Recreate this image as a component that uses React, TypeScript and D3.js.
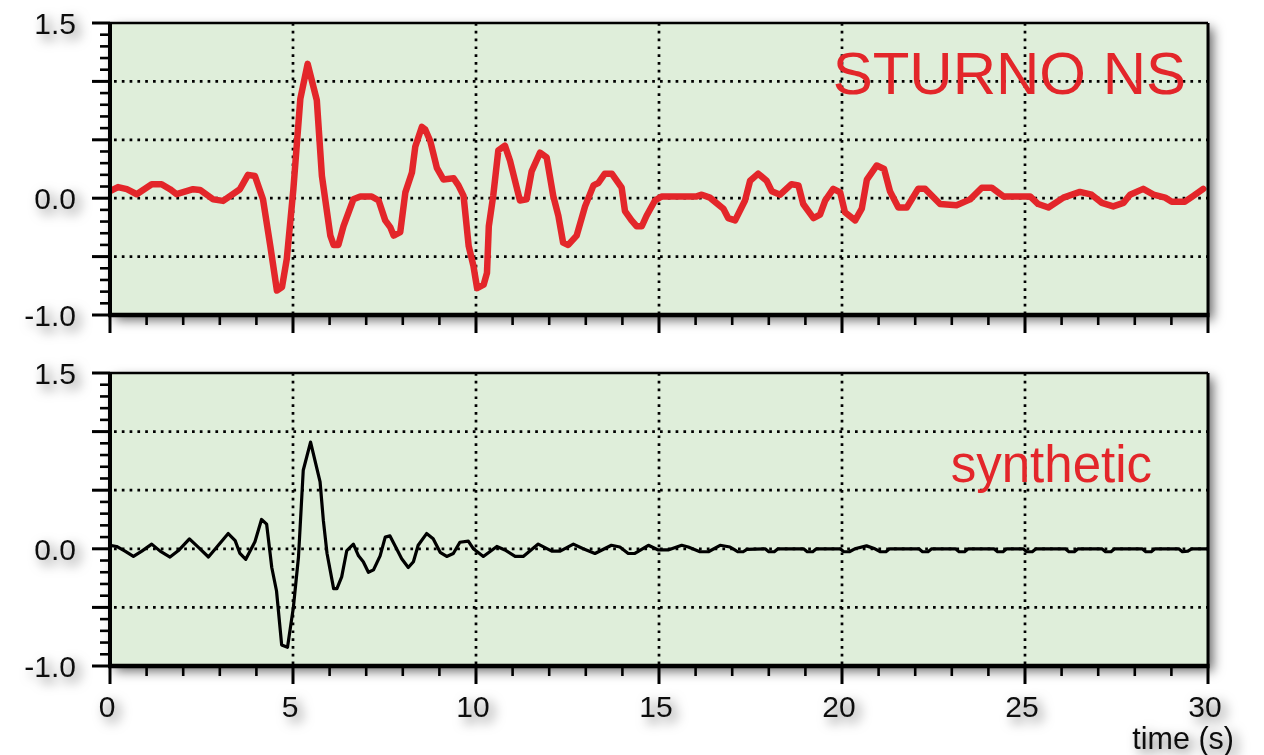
import React from 'react';
import * as d3 from 'd3';

// observed record (STURNO NS): time (s) and normalised amplitude
const obsT = [0, 0.22, 0.46, 0.73, 1.14, 1.41, 1.64, 1.82, 2.27, 2.46, 2.82, 3.09, 3.55, 3.77, 3.96, 4.18, 4.38, 4.56, 4.7, 4.83, 5.01, 5.2, 5.4, 5.65, 5.79, 6.02, 6.11, 6.24, 6.38, 6.65, 6.84, 7.15, 7.34, 7.52, 7.66, 7.75, 7.93, 8.07, 8.25, 8.34, 8.52, 8.61, 8.75, 8.93, 9.11, 9.39, 9.52, 9.66, 9.8, 9.93, 10.03, 10.21, 10.3, 10.35, 10.47, 10.61, 10.79, 10.93, 11.2, 11.38, 11.52, 11.75, 11.93, 12.11, 12.25, 12.38, 12.52, 12.75, 12.98, 13.21, 13.34, 13.52, 13.71, 13.98, 14.07, 14.25, 14.39, 14.53, 14.66, 14.89, 15.07, 16.03, 16.17, 16.39, 16.76, 16.89, 17.08, 17.35, 17.49, 17.71, 17.94, 18.08, 18.31, 18.62, 18.81, 18.94, 19.22, 19.4, 19.54, 19.76, 19.95, 20.08, 20.36, 20.54, 20.68, 20.95, 21.15, 21.31, 21.54, 21.77, 22.08, 22.27, 22.68, 23.13, 23.5, 23.82, 24.09, 24.41, 25.14, 25.36, 25.64, 26.05, 26.5, 26.82, 27.1, 27.41, 27.69, 27.87, 28.23, 28.51, 28.83, 29.01, 29.37, 29.6, 29.87];
const obsV = [0.06, 0.095, 0.077, 0.034, 0.12, 0.12, 0.077, 0.034, 0.077, 0.071, -0.01, -0.023, 0.077, 0.2, 0.19, -0.01, -0.41, -0.79, -0.76, -0.52, 0.077, 0.85, 1.15, 0.84, 0.19, -0.32, -0.4, -0.4, -0.24, -0.01, 0.015, 0.015, -0.02, -0.19, -0.25, -0.32, -0.29, 0.05, 0.22, 0.44, 0.61, 0.59, 0.49, 0.26, 0.16, 0.17, 0.11, 0.02, -0.41, -0.58, -0.77, -0.74, -0.64, -0.24, 0.02, 0.41, 0.45, 0.32, -0.02, -0.01, 0.23, 0.39, 0.35, 0.02, -0.15, -0.38, -0.4, -0.32, -0.07, 0.11, 0.13, 0.21, 0.21, 0.09, -0.11, -0.19, -0.24, -0.24, -0.15, -0.02, 0.015, 0.015, 0.03, 0.005, -0.09, -0.17, -0.19, -0.02, 0.15, 0.21, 0.15, 0.06, 0.03, 0.12, 0.11, -0.05, -0.17, -0.14, -0.02, 0.08, 0.05, -0.12, -0.19, -0.09, 0.16, 0.28, 0.25, 0.06, -0.08, -0.08, 0.08, 0.08, -0.05, -0.06, -0.01, 0.09, 0.09, 0.015, 0.015, -0.05, -0.08, 0.005, 0.054, 0.03, -0.04, -0.07, -0.04, 0.03, 0.08, 0.03, 0.005, -0.03, -0.03, 0.02, 0.08];

// synthetic seismogram
const synT = [0, 0.18, 0.41, 0.64, 0.87, 1.14, 1.37, 1.64, 1.87, 2.17, 2.41, 2.69, 2.96, 3.23, 3.42, 3.55, 3.71, 3.96, 4.14, 4.28, 4.42, 4.55, 4.69, 4.85, 5.01, 5.15, 5.28, 5.48, 5.74, 5.83, 5.93, 6.11, 6.2, 6.33, 6.47, 6.65, 6.79, 6.92, 7.06, 7.2, 7.38, 7.52, 7.65, 7.83, 7.97, 8.15, 8.29, 8.42, 8.65, 8.83, 9.02, 9.2, 9.38, 9.56, 9.79, 9.93, 10.2, 10.57, 10.79, 11.07, 11.29, 11.7, 12.07, 12.3, 12.66, 12.93, 13.25, 13.7, 13.93, 14.16, 14.34, 14.71, 14.98, 15.25, 15.62, 15.8, 16.12, 16.35, 16.67, 16.94, 17.05, 17.15, 17.3, 17.4, 17.9, 18.0, 18.15, 18.25, 18.95, 19.05, 19.2, 19.3, 19.95, 20.05, 20.2, 20.35, 20.67, 20.9, 21.05, 21.2, 21.3, 22.1, 22.2, 22.35, 22.45, 23.1, 23.2, 23.35, 23.45, 24.15, 24.25, 24.4, 24.5, 24.95, 25.05, 25.2, 25.3, 26.1, 26.2, 26.35, 26.45, 27.1, 27.2, 27.35, 27.45, 28.2, 28.3, 28.45, 28.55, 29.2, 29.3, 29.45, 29.55, 30];
const synV = [0.03, 0.02, -0.02, -0.065, -0.02, 0.04, -0.02, -0.07, -0.015, 0.085, 0.014, -0.07, 0.03, 0.13, 0.07, -0.04, -0.09, 0.06, 0.25, 0.21, -0.16, -0.36, -0.82, -0.84, -0.5, -0.07, 0.67, 0.91, 0.57, 0.24, -0.04, -0.34, -0.34, -0.24, -0.015, 0.04, -0.06, -0.11, -0.2, -0.18, -0.06, 0.1, 0.11, 0, -0.085, -0.16, -0.11, 0.03, 0.13, 0.085, -0.03, -0.065, -0.04, 0.056, 0.065, 0, -0.065, 0.02, -0.01, -0.065, -0.065, 0.04, -0.02, -0.02, 0.04, 0, -0.04, 0.03, 0.015, -0.04, -0.04, 0.03, -0.01, -0.01, 0.03, 0.015, -0.025, -0.025, 0.03, 0.015, -0.005, -0.025, -0.025, -0.005, 0, -0.025, -0.025, 0, 0, -0.025, -0.025, 0, 0, -0.025, -0.025, 0, 0.025, 0, -0.025, -0.025, 0, 0, -0.025, -0.025, 0, 0, -0.025, -0.025, 0, 0, -0.025, -0.025, 0, 0, -0.025, -0.025, 0, 0, -0.025, -0.025, 0, 0, -0.025, -0.025, 0, 0, -0.025, -0.025, 0, 0, -0.025, -0.02, 0, 0];

const xTickValues = [0, 5, 10, 15, 20, 25, 30];
const xTickLabels = ['0', '5', '10', '15', '20', '25', '30'];
const yTickValues = [1.5, 0, -1.0];
const yTickLabels = ['1.5', '0.0', '-1.0'];
const gridYValues = [1.0, 0.5, 0, -0.5, -1.0];
const gridXValues = [5, 10, 15, 20, 25];
const panelTitles = ['STURNO NS', 'synthetic'];
const xAxisTitle = 'time (s)';

const W = 1264;
const H = 755;
const X0 = 110;
const X1 = 1208;
const FONT = '"Liberation Sans", Arial, Helvetica, sans-serif';
const RED = '#e3262a';
const BG = '#dfeeda';

const x = d3.scaleLinear().domain([0, 30]).range([X0, X1]);

type PanelProps = {
  id: string;
  top: number;
  bottom: number;
  T: number[];
  V: number[];
  color: string;
  lineWidth: number;
  title: string;
  titleX: number;
  titleY: number;
  titleSize: number;
  showXLabels: boolean;
};

function Panel(p: PanelProps) {
  const y = d3.scaleLinear().domain([-1, 1.5]).range([p.bottom, p.top]);
  const pts: [number, number][] = p.T.map((t, i) => [t, p.V[i]]);
  const line = d3
    .line<[number, number]>()
    .x((d) => x(d[0]))
    .y((d) => y(d[1]));
  const yMinor = d3.range(-10, 16).map((k) => k / 10);
  const xMinor = d3.range(0, 31);
  const h = p.bottom - p.top;
  return (
    <g>
      <defs>
        <clipPath id={`clip-${p.id}`}>
          <rect x={X0} y={p.top} width={X1 - X0} height={h} />
        </clipPath>
      </defs>
      <g filter="url(#shadow)">
        <rect x={X0} y={p.top} width={X1 - X0} height={h} fill={BG} />
        {yTickValues.map((v, i) => (
          <text
            key={`yl${i}`}
            x={76}
            y={y(v) + 11}
            textAnchor="end"
            fontSize={30}
            fontFamily={FONT}
            fill="#111"
          >
            {yTickLabels[i]}
          </text>
        ))}
        {p.showXLabels &&
          xTickValues.map((v, i) => (
            <text
              key={`xl${i}`}
              x={x(v) - 3}
              y={716.5}
              textAnchor="middle"
              fontSize={30}
              fontFamily={FONT}
              fill="#111"
            >
              {xTickLabels[i]}
            </text>
          ))}
        {p.showXLabels && (
          <text x={1234} y={749} textAnchor="end" fontSize={30.5} fontFamily={FONT} fill="#111">
            {xAxisTitle}
          </text>
        )}
      </g>
      {/* grid */}
      {gridYValues.map((v) => (
        <line
          key={`gy${v}`}
          x1={X0 + 4}
          x2={X1}
          y1={y(v)}
          y2={y(v)}
          stroke="#000"
          strokeWidth={2.7}
          strokeDasharray="2.7,5.1"
        />
      ))}
      {gridXValues.map((v) => (
        <line
          key={`gx${v}`}
          x1={x(v)}
          x2={x(v)}
          y1={p.top}
          y2={p.bottom}
          stroke="#000"
          strokeWidth={2.7}
          strokeDasharray="2.7,5.1"
        />
      ))}
      <text
        x={p.titleX}
        y={p.titleY}
        textAnchor="end"
        fontSize={p.titleSize}
        fontFamily={FONT}
        fill={RED}
      >
        {p.title}
      </text>
      <path
        d={line(pts) || ''}
        fill="none"
        stroke={p.color}
        strokeWidth={p.lineWidth}
        strokeLinejoin="round"
        strokeLinecap="round"
        clipPath={`url(#clip-${p.id})`}
      />
      {/* frame */}
      <line x1={X0} x2={X1} y1={p.top} y2={p.top} stroke="#000" strokeWidth={2.5} />
      <line x1={X1} x2={X1} y1={p.top} y2={p.bottom} stroke="#000" strokeWidth={3} />
      {/* left axis */}
      {yMinor.map((v, i) => {
        const major = Math.abs(v * 2 - Math.round(v * 2)) < 1e-6;
        return (
          <line
            key={`ym${i}`}
            x1={major ? 92 : 100}
            x2={X0}
            y1={y(v)}
            y2={y(v)}
            stroke="#000"
            strokeWidth={major ? 3 : 2.6}
          />
        );
      })}
      <line x1={X0} x2={X0} y1={p.top - 1} y2={p.bottom + 2} stroke="#000" strokeWidth={4} />
      {/* bottom axis */}
      {xMinor.map((v) => {
        const major = v % 5 === 0;
        return (
          <line
            key={`xm${v}`}
            x1={x(v)}
            x2={x(v)}
            y1={p.bottom}
            y2={p.bottom + (major ? 18 : 10)}
            stroke="#000"
            strokeWidth={major ? 3 : 2.6}
          />
        );
      })}
      <line x1={X0 - 2} x2={X1 + 1.5} y1={p.bottom} y2={p.bottom} stroke="#000" strokeWidth={4.5} />
    </g>
  );
}

export default function App() {
  return (
    <svg
      width={W}
      height={H}
      viewBox={`0 0 ${W} ${H}`}
      style={{ position: 'absolute', left: 0, top: 0, background: '#fff' }}
    >
      <defs>
        <filter id="shadow" x="-20%" y="-20%" width="140%" height="150%">
          <feDropShadow dx="5" dy="5" stdDeviation="6" floodColor="#000" floodOpacity="0.6" />
        </filter>
      </defs>
      <Panel
        id="obs"
        top={23}
        bottom={315}
        T={obsT}
        V={obsV}
        color={RED}
        lineWidth={6.5}
        title={panelTitles[0]}
        titleX={1186}
        titleY={94}
        titleSize={60}
        showXLabels={false}
      />
      <Panel
        id="syn"
        top={373}
        bottom={666}
        T={synT}
        V={synV}
        color="#000"
        lineWidth={3.2}
        title={panelTitles[1]}
        titleX={1152}
        titleY={482}
        titleSize={51}
        showXLabels={true}
      />
    </svg>
  );
}
